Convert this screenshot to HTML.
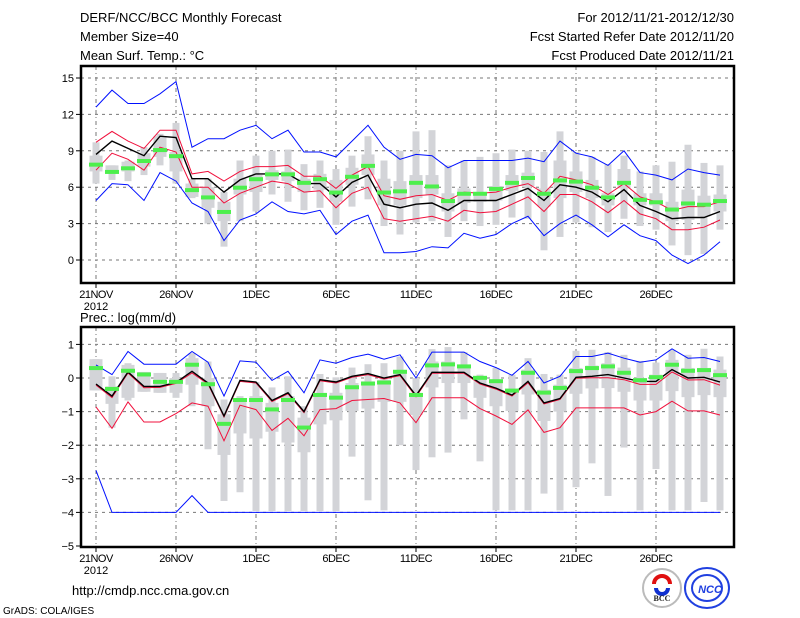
<!DOCTYPE html>
<html><head><meta charset="utf-8">
<style>
html,body{margin:0;padding:0;background:#fff;}
svg{display:block;font-family:"Liberation Sans",sans-serif;}
</style></head>
<body>
<svg id="chart" width="800" height="618" viewBox="0 0 800 618" xmlns="http://www.w3.org/2000/svg">
<g font-size="13" fill="#000">
<text x="80" y="22">DERF/NCC/BCC Monthly Forecast</text>
<text x="80" y="41">Member Size=40</text>
<text x="80" y="60">Mean Surf. Temp.: °C</text>
<text x="734" y="22" text-anchor="end">For 2012/11/21-2012/12/30</text>
<text x="734" y="41" text-anchor="end">Fcst Started Refer Date 2012/11/20</text>
<text x="734" y="60" text-anchor="end">Fcst Produced Date 2012/11/21</text>
<text x="80" y="322">Prec.: log(mm/d)</text>
<text x="72" y="595">http://cmdp.ncc.cma.gov.cn</text>
<text x="3" y="614" font-size="10">GrADS: COLA/IGES</text>
</g>
<g id="top"></g>
<g id="bot"></g>
<g>
<circle cx="662" cy="588" r="19" fill="#fff" stroke="#bbb" stroke-width="2"/>
<path d="M654 584 a8 8 0 1 1 16 0" fill="none" stroke="#e01010" stroke-width="4"/>
<path d="M656 588 a6 6 0 1 0 12 0" fill="none" stroke="#1030d0" stroke-width="4"/>
<text x="662" y="601" font-size="8" text-anchor="middle" font-weight="bold" fill="#222" font-family="Liberation Serif,serif">BCC</text>
</g>
<g>
<ellipse cx="707" cy="588" rx="22" ry="20" fill="#fff" stroke="#2040e0" stroke-width="2"/>
<ellipse cx="707" cy="588" rx="15" ry="13" fill="none" stroke="#2040e0" stroke-width="2"/>
<text x="710" y="593" font-size="11" text-anchor="middle" font-weight="bold" fill="#2040e0" font-style="italic">NCC</text>
</g>
</svg>
<script>
// ---------- Temperature data (40 days from 21 Nov) ----------
const days = ["21NOV","26NOV","1DEC","6DEC","11DEC","16DEC","21DEC","26DEC"];
const tTicks = [0,3,6,9,12,15];
const tBlueHi = [12.6,14.0,12.9,12.9,13.7,14.7,9.3,10.0,10.0,10.7,11.1,10.0,10.7,8.9,8.9,8.5,9.8,11.1,9.3,8.3,8.7,8.6,7.6,8.2,8.2,8.2,8.2,8.4,8.1,9.8,8.8,8.5,7.8,9.0,7.2,7.0,6.6,7.5,7.2,7.0];
const tRedHi = [9.7,10.6,9.8,9.2,10.7,10.7,7.1,7.3,6.5,7.3,7.7,7.7,7.8,6.9,6.9,5.9,7.0,7.7,5.3,5.0,5.3,5.4,4.9,5.6,5.5,5.6,6.0,6.3,5.5,6.9,6.6,6.2,5.4,6.3,5.2,4.8,4.1,4.4,4.4,4.8];
const tMean = [8.7,9.8,9.2,8.6,10.2,10.1,6.7,6.7,5.6,6.6,7.1,7.1,7.1,6.3,6.3,5.2,6.4,7.0,4.6,4.3,4.6,4.7,4.1,4.9,4.9,4.9,5.4,5.9,4.9,6.2,6.0,5.6,4.8,5.8,4.5,4.0,3.4,3.5,3.5,4.0];
const tRedLo = [7.4,8.8,8.3,7.4,9.3,8.9,6.0,6.0,4.7,5.5,6.0,6.5,6.3,5.6,5.7,4.3,5.5,6.0,3.4,3.2,3.4,3.6,3.2,4.1,3.9,4.0,4.6,5.2,4.0,5.4,5.4,4.8,3.9,4.9,3.8,3.4,2.5,2.5,2.7,3.3];
const tBlueLo = [4.9,6.3,6.2,4.9,7.2,6.5,4.7,4.0,1.6,3.3,3.8,4.8,4.0,3.8,4.1,2.1,3.2,3.7,0.6,0.6,0.7,1.1,1.0,2.2,1.8,2.1,3.0,3.6,2.0,3.0,3.7,2.9,1.9,2.9,2.0,1.6,0.4,-0.3,0.4,1.5];
const tObs = [7.9,7.3,7.6,8.2,9.1,8.6,5.8,5.2,4.0,6.0,6.7,7.1,7.1,6.4,6.7,5.6,6.9,7.8,5.6,5.7,6.4,6.1,4.9,5.5,5.5,5.9,6.4,6.8,5.5,6.6,6.5,6.0,5.2,6.4,5.0,4.8,4.2,4.7,4.6,4.9];
const tMax = [9.7,7.8,8.2,9.3,10.4,11.3,6.7,6.7,5.6,8.2,8.6,9.0,9.1,7.9,8.2,7.5,8.6,10.2,8.2,9.0,10.6,10.7,7.8,8.2,8.5,8.8,9.1,9.0,8.9,10.6,8.9,8.5,7.9,8.6,7.3,7.8,8.1,9.5,8.0,7.8];
const tMin = [6.3,6.6,6.5,7.0,7.8,6.3,5.1,3.0,1.1,3.2,4.0,5.4,4.8,4.1,4.3,2.9,4.4,5.0,2.8,2.1,3.1,3.2,1.9,3.2,2.8,2.9,3.5,3.4,0.8,1.9,3.1,2.7,2.3,3.4,2.8,2.5,1.2,0.4,0.5,2.5];
const tQ3 = [8.6,7.8,8.1,8.8,10.2,8.9,6.3,6.0,4.8,6.7,7.0,7.4,7.3,6.7,7.1,6.6,7.6,8.7,6.7,6.5,7.0,7.0,5.5,5.9,5.6,6.1,7.0,7.2,5.9,8.2,7.3,6.6,5.5,7.5,5.5,5.5,4.8,5.8,5.3,5.4];
const tQ1 = [7.3,7.1,7.3,7.7,8.5,7.3,5.2,4.3,3.2,5.4,5.6,6.6,6.5,5.6,5.8,4.8,6.2,7.0,4.5,4.5,5.1,5.4,4.0,4.7,4.8,4.9,5.7,6.1,4.4,5.1,5.6,5.1,4.5,5.9,4.5,4.5,3.2,3.3,3.6,4.0];

// ---------- Precipitation data ----------
const pTicks = [-5,-4,-3,-2,-1,0,1];
const pBlueHi = [0.39,0.10,0.79,0.41,0.41,0.41,0.79,0.47,-0.54,0.51,0.47,-0.07,0.20,-0.44,0.54,0.44,0.61,0.71,0.56,0.69,0.0,0.77,0.77,0.77,0.49,0.31,0.08,0.49,-0.15,0.05,0.64,0.64,0.74,0.59,0.47,0.54,0.87,0.59,0.61,0.49];
const pMean = [-0.18,-0.54,0.18,-0.25,-0.25,-0.13,0.20,-0.15,-1.13,-0.07,-0.12,-0.67,-0.44,-1.0,-0.05,-0.12,0.05,0.13,0.0,0.10,-0.52,0.17,0.17,0.17,-0.15,-0.30,-0.51,-0.10,-0.74,-0.61,0.02,0.05,0.10,0.0,-0.10,-0.10,0.25,0.0,0.02,-0.12];
const pRedHi = [-0.21,-0.58,0.15,-0.29,-0.28,-0.16,0.15,-0.18,-1.16,-0.10,-0.15,-0.70,-0.47,-1.03,-0.08,-0.15,0.02,0.10,-0.03,0.07,-0.56,0.14,0.14,0.14,-0.18,-0.33,-0.54,-0.14,-0.77,-0.64,-0.01,0.01,0.01,-0.05,-0.19,-0.19,0.18,-0.06,-0.05,-0.21];
const pRedLo = [-0.86,-1.50,-0.71,-1.31,-1.31,-1.06,-0.74,-0.84,-1.87,-0.81,-0.94,-1.56,-1.20,-1.72,-0.94,-0.91,-0.67,-0.64,-0.61,-0.74,-1.33,-0.59,-0.59,-0.59,-0.91,-1.13,-1.38,-0.95,-1.62,-1.48,-0.89,-0.89,-0.89,-0.89,-1.10,-1.0,-0.69,-0.98,-0.98,-1.10];
const pBlueLo = [-2.75,-4,-4,-4,-4,-4,-3.5,-4,-4,-4,-4,-4,-4,-4,-4,-4,-4,-4,-4,-4,-4,-4,-4,-4,-4,-4,-4,-4,-4,-4,-4,-4,-4,-4,-4,-4,-4,-4,-4,-4];
const pObs = [0.31,-0.31,0.23,0.12,-0.10,-0.10,0.41,-0.17,-1.35,-0.64,-0.64,-0.92,-0.64,-1.46,-0.49,-0.57,-0.26,-0.15,-0.12,0.20,-0.49,0.39,0.42,0.36,0.02,-0.08,-0.36,0.17,-0.42,-0.28,0.22,0.31,0.36,0.17,-0.05,0.04,0.41,0.23,0.25,0.10];
const pMax = [0.56,0.05,0.44,0.18,0.15,0.15,0.74,0.49,-0.64,-0.54,-0.12,-0.28,0.05,-0.84,0.12,0.02,0.31,0.41,0.44,0.64,0.0,0.86,0.92,0.77,0.10,0.30,0.10,0.59,0.12,0.10,0.81,0.84,0.77,0.69,0.51,0.46,0.84,0.69,0.87,0.64];
const pMin = [-0.37,-1.48,-0.67,-0.41,-0.44,-0.59,-0.84,-2.12,-3.66,-3.40,-3.96,-3.96,-3.96,-3.96,-3.96,-3.96,-2.34,-3.64,-3.94,-2.0,-2.74,-2.36,-2.22,-1.23,-2.48,-3.94,-3.94,-3.94,-3.44,-3.94,-3.25,-2.54,-3.51,-2.07,-3.94,-2.71,-3.94,-3.94,-3.69,-3.94];
const pQ3 = [0.56,-0.25,0.39,0.18,0.15,0.0,0.59,0.0,-1.08,-0.64,-0.54,-0.74,-0.54,-1.18,-0.44,-0.44,-0.15,-0.10,-0.05,0.20,-0.44,0.49,0.49,0.37,0.0,-0.10,-0.35,0.25,-0.35,-0.20,0.30,0.37,0.44,0.31,0.0,0.10,0.54,0.30,0.30,0.25];
const pQ1 = [-0.37,-0.77,-0.59,-0.41,-0.44,-0.44,-0.20,-0.84,-2.29,-1.65,-1.80,-1.60,-1.92,-2.21,-1.38,-1.26,-0.98,-0.91,-0.71,-0.71,-1.10,-0.28,-0.15,-0.15,-0.59,-0.84,-0.98,-0.49,-1.28,-1.0,-0.47,-0.31,-0.30,-0.41,-0.67,-0.67,-0.39,-0.57,-0.51,-0.57];

const NS = "http://www.w3.org/2000/svg";
const X0 = 81, X1 = 734;
function xDay(i){ return 96 + 16*i; }
function mk(parent, tag, attrs){
  const e = document.createElementNS(NS, tag);
  for (const k in attrs) e.setAttribute(k, attrs[k]);
  parent.appendChild(e); return e;
}

function panel(g, top, bottom, yScale, ticks, S){
  // grid
  ticks.forEach(v=>{
    const y = yScale(v);
    if (y > top+3 && y < bottom-3) {
      const l = mk(g,'line',{x1:X0,x2:X1,y1:y,y2:y,stroke:'#777','stroke-width':1,'stroke-dasharray':'3,4'});
      
      
    }
    const t = mk(g,'line',{x1:X0-5,x2:X0,y1:y,y2:y,stroke:'#000','stroke-width':1});
    
    
    const tx = mk(g,'text',{x:X0-7,y:y+4,'text-anchor':'end','font-size':11});
    tx.textContent = String(v).replace('-','−');
    
    
  });
  days.forEach((d,k)=>{
    const x = xDay(k*5);
    const l = mk(g,'line',{x1:x,x2:x,y1:top,y2:bottom,stroke:'#777','stroke-width':1,'stroke-dasharray':'4,3,1,3'});
    
    
    const tk = mk(g,'line',{x1:x,x2:x,y1:bottom,y2:bottom+5,stroke:'#000'});
    
    
    const tx = mk(g,'text',{x:x,y:bottom+15,'text-anchor':'middle','font-size':11,'letter-spacing':'-0.5'});
    tx.textContent = d;
    
    
  });
  const yr = mk(g,'text',{x:96,y:bottom+27,'text-anchor':'middle','font-size':11});
  yr.textContent = '2012';
  
  

  // bars
  for (let i=0;i<S.max.length;i++){
    const x = xDay(i);
    const o = mk(g,'rect',{x:x-3.5,y:yScale(S.max[i]),width:7,height:Math.max(1,yScale(S.min[i])-yScale(S.max[i])),fill:'#d3d4d8'});
    
    
    const q = mk(g,'rect',{x:x-6.5,y:yScale(S.q3[i]),width:13,height:Math.max(1,yScale(S.q1[i])-yScale(S.q3[i])),fill:'#d3d4d8'});
    
    
  }
  const line = (arr,color,w,name)=>{
    const p = mk(g,'polyline',{points:arr.map((v,i)=>xDay(i)+','+yScale(v).toFixed(1)).join(' '),fill:'none',stroke:color,'stroke-width':w});
    
    
  };
  line(S.blueHi,'#0010ff',1,'upper-bound-line');
  line(S.blueLo,'#0010ff',1,'lower-bound-line');
  line(S.redHi,'#f0103c',1,'upper-std-line');
  line(S.redLo,'#f0103c',1,'lower-std-line');
  line(S.mean,'#000',1.4,'ensemble-mean-line');
  for (let i=0;i<S.obs.length;i++){
    const r = mk(g,'rect',{x:xDay(i)-7,y:yScale(S.obs[i])-1.5,width:14,height:4,fill:'#4def4d'});
    
    
  }
  const f = mk(g,'rect',{x:X0,y:top,width:X1-X0,height:bottom-top,fill:'none',stroke:'#000','stroke-width':2.5});
  
  
}

const tY = v => 260 - v*(182/15);
const pY = v => 378 - v*(168/5);
panel(document.getElementById('top'), 66, 283, tY, tTicks,
  {max:tMax,min:tMin,q3:tQ3,q1:tQ1,blueHi:tBlueHi,blueLo:tBlueLo,redHi:tRedHi,redLo:tRedLo,mean:tMean,obs:tObs});
panel(document.getElementById('bot'), 327, 547, pY, pTicks,
  {max:pMax,min:pMin,q3:pQ3,q1:pQ1,blueHi:pBlueHi,blueLo:pBlueLo,redHi:pRedHi,redLo:pRedLo,mean:pMean,obs:pObs});
</script>
</body></html>
